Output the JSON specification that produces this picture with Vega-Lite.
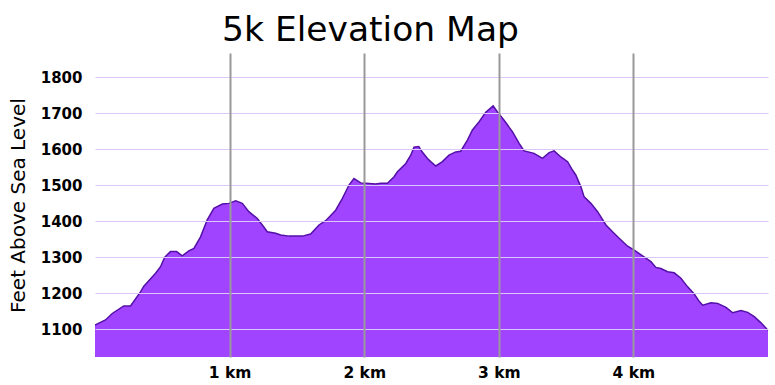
{
  "$schema": "https://vega.github.io/schema/vega-lite/v6.json",
  "width": 673,
  "height": 304,
  "autosize": {"type": "none"},
  "padding": {"left": 95, "top": 53, "right": 7, "bottom": 28},
  "background": "white",
  "title": {
    "text": "5k Elevation Map",
    "anchor": "start",
    "frame": "group",
    "dx": 127,
    "offset": 5,
    "font": "DejaVu Sans",
    "fontSize": 34.5,
    "fontWeight": "normal",
    "color": "#000000"
  },
  "config": {
    "view": {"stroke": null},
    "axis": {"labelFont": "DejaVu Sans", "titleFont": "DejaVu Sans"}
  },
  "data": {
    "values": [
      {"km": 0.0, "ft": 1112}, {"km": 0.078, "ft": 1126}, {"km": 0.128, "ft": 1144},
      {"km": 0.214, "ft": 1165}, {"km": 0.264, "ft": 1165}, {"km": 0.338, "ft": 1204},
      {"km": 0.363, "ft": 1220}, {"km": 0.45, "ft": 1256}, {"km": 0.487, "ft": 1274},
      {"km": 0.517, "ft": 1300}, {"km": 0.561, "ft": 1316}, {"km": 0.606, "ft": 1316},
      {"km": 0.648, "ft": 1304}, {"km": 0.697, "ft": 1318}, {"km": 0.735, "ft": 1325},
      {"km": 0.784, "ft": 1357}, {"km": 0.834, "ft": 1404}, {"km": 0.883, "ft": 1436},
      {"km": 0.946, "ft": 1448}, {"km": 0.995, "ft": 1450}, {"km": 1.045, "ft": 1457},
      {"km": 1.094, "ft": 1450}, {"km": 1.143, "ft": 1427}, {"km": 1.206, "ft": 1408},
      {"km": 1.243, "ft": 1390}, {"km": 1.28, "ft": 1371}, {"km": 1.342, "ft": 1367},
      {"km": 1.379, "ft": 1362}, {"km": 1.441, "ft": 1359}, {"km": 1.541, "ft": 1359},
      {"km": 1.602, "ft": 1365}, {"km": 1.664, "ft": 1390}, {"km": 1.714, "ft": 1402},
      {"km": 1.788, "ft": 1431}, {"km": 1.838, "ft": 1464}, {"km": 1.887, "ft": 1501},
      {"km": 1.924, "ft": 1519}, {"km": 1.974, "ft": 1507}, {"km": 2.011, "ft": 1506},
      {"km": 2.086, "ft": 1504}, {"km": 2.123, "ft": 1506}, {"km": 2.173, "ft": 1506},
      {"km": 2.222, "ft": 1524}, {"km": 2.247, "ft": 1538}, {"km": 2.309, "ft": 1561},
      {"km": 2.346, "ft": 1584}, {"km": 2.37, "ft": 1606}, {"km": 2.405, "ft": 1608},
      {"km": 2.433, "ft": 1592}, {"km": 2.47, "ft": 1575}, {"km": 2.494, "ft": 1566},
      {"km": 2.532, "ft": 1554}, {"km": 2.581, "ft": 1566}, {"km": 2.63, "ft": 1584},
      {"km": 2.68, "ft": 1593}, {"km": 2.717, "ft": 1595}, {"km": 2.767, "ft": 1626},
      {"km": 2.804, "ft": 1654}, {"km": 2.854, "ft": 1677}, {"km": 2.903, "ft": 1703},
      {"km": 2.958, "ft": 1721}, {"km": 2.99, "ft": 1704}, {"km": 3.039, "ft": 1681},
      {"km": 3.102, "ft": 1649}, {"km": 3.151, "ft": 1617}, {"km": 3.188, "ft": 1596},
      {"km": 3.262, "ft": 1589}, {"km": 3.325, "ft": 1575}, {"km": 3.374, "ft": 1591},
      {"km": 3.411, "ft": 1596}, {"km": 3.461, "ft": 1579}, {"km": 3.511, "ft": 1566},
      {"km": 3.548, "ft": 1542}, {"km": 3.572, "ft": 1529}, {"km": 3.61, "ft": 1496},
      {"km": 3.634, "ft": 1468}, {"km": 3.684, "ft": 1450}, {"km": 3.734, "ft": 1427},
      {"km": 3.796, "ft": 1390}, {"km": 3.845, "ft": 1371}, {"km": 3.894, "ft": 1353},
      {"km": 3.957, "ft": 1331}, {"km": 4.006, "ft": 1320}, {"km": 4.068, "ft": 1304},
      {"km": 4.13, "ft": 1288}, {"km": 4.167, "ft": 1272}, {"km": 4.204, "ft": 1269},
      {"km": 4.254, "ft": 1260}, {"km": 4.303, "ft": 1257}, {"km": 4.353, "ft": 1242},
      {"km": 4.403, "ft": 1218}, {"km": 4.452, "ft": 1198}, {"km": 4.49, "ft": 1177},
      {"km": 4.515, "ft": 1167}, {"km": 4.576, "ft": 1174}, {"km": 4.626, "ft": 1172},
      {"km": 4.688, "ft": 1161}, {"km": 4.738, "ft": 1146}, {"km": 4.799, "ft": 1152},
      {"km": 4.849, "ft": 1147}, {"km": 4.898, "ft": 1135}, {"km": 4.948, "ft": 1118},
      {"km": 4.998, "ft": 1098}, {"km": 5.0, "ft": 1097}
    ]
  },
  "mark": {
    "type": "area",
    "color": "#a044ff",
    "opacity": 1,
    "clip": true,
    "line": {"color": "#5410a8", "strokeWidth": 1.5}
  },
  "encoding": {
    "x": {
      "field": "km",
      "type": "quantitative",
      "scale": {"domain": [0, 5], "nice": false},
      "axis": {
        "title": null,
        "values": [1, 2, 3, 4],
        "labelExpr": "datum.value + ' km'",
        "domain": false,
        "ticks": false,
        "grid": true,
        "gridColor": "#999999",
        "gridWidth": 2,
        "gridOpacity": 1,
        "labelFontSize": 15.5,
        "labelFontWeight": "bold",
        "labelColor": "#000000",
        "labelPadding": 8,
        "zindex": 2
      }
    },
    "y": {
      "field": "ft",
      "type": "quantitative",
      "scale": {"domain": [1023, 1868], "nice": false, "zero": false},
      "axis": {
        "title": "Feet Above Sea Level",
        "values": [1100, 1200, 1300, 1400, 1500, 1600, 1700, 1800],
        "format": "d",
        "domain": false,
        "ticks": false,
        "grid": true,
        "gridColor": "#dcc8f8",
        "gridWidth": 1.2,
        "gridOpacity": 1,
        "labelFontSize": 15,
        "labelFontWeight": "bold",
        "labelColor": "#000000",
        "labelPadding": 13,
        "titleFontSize": 20,
        "titleFontWeight": "normal",
        "titleColor": "#000000",
        "titlePadding": 12,
        "zindex": 1
      }
    }
  }
}
